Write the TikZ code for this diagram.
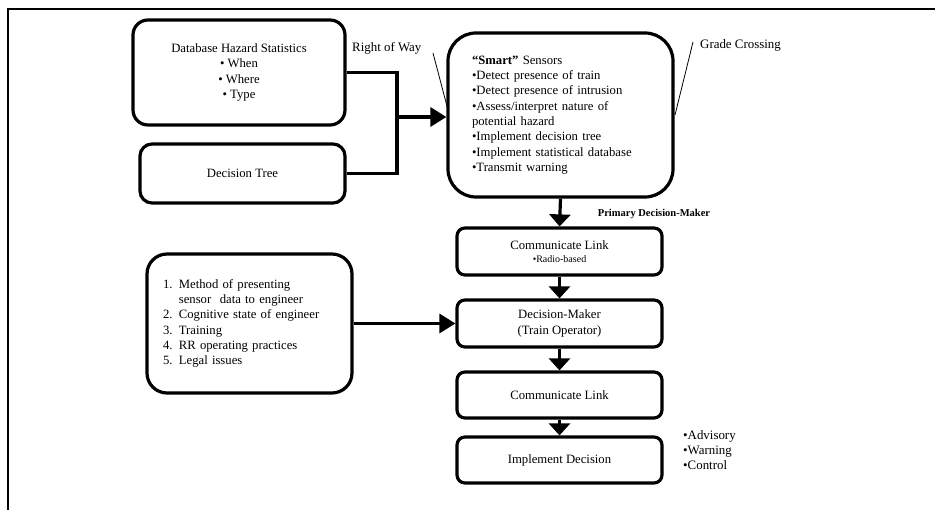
\documentclass[tikz,border=0pt]{standalone}
\usepackage{fontspec}
\setmainfont{Liberation Serif}
\usetikzlibrary{arrows.meta,calc}
\begin{document}
\begin{tikzpicture}[x=1pt,y=-1pt,
  box/.style={draw,line width=3.2pt,rounded corners=#1,inner sep=0pt,align=center,
    font=\fontsize{12.7}{15.3}\selectfont},
  box/.default=8pt,
  flow/.style={line width=3.2pt,-{Triangle[length=12pt,width=21pt]}},
  feed/.style={line width=3.2pt},
  note/.style={font=\fontsize{12.9}{15.3}\selectfont,inner sep=0pt},
  pointer/.style={line width=0.8pt}]
  \useasboundingbox (0,0) rectangle (935,510);
  % frame
  \draw[line width=2pt] (8,510) -- (8,9) -- (935,9);

  % inputs to the sensors
  \node[box=15pt,minimum width=212pt,minimum height=105pt] (db) at (239,72.5)
    {Database Hazard Statistics\\ \textbullet\ When\\ \textbullet\ Where\\ \textbullet\ Type};
  \node[box=12pt,minimum width=205pt,minimum height=59pt] (dt) at (242.5,173.5) {Decision Tree};

  \node[box=28pt,minimum width=225pt,minimum height=164pt,text width=177pt,align=left] (sens) at (560.5,115)
    {\textbf{“Smart”} Sensors\\
     •Detect presence of train\\
     •Detect presence of intrusion\\
     •Assess/interpret nature of\\
     potential hazard\\
     •Implement decision tree\\
     •Implement statistical database\\
     •Transmit warning};

  \coordinate (j) at (397,117);
  \draw[feed] (db.east) -- (db.east -| j) -- (dt.east -| j) -- (dt.east);
  \draw[line width=3.2pt,-{Triangle[length=16pt,width=19pt]}] (j) -- (j -| sens.west);

  % location labels
  \node[note,anchor=base west] (row) at (352,52) {Right of Way};
  \coordinate (rowend) at (448,110);
  \draw[pointer] (433,53) -- (rowend);
  \node[note,anchor=base west] (gc) at (700,49) {Grade Crossing};
  \coordinate (gcend) at (675,115);
  \draw[pointer] (693,42) -- (gcend);

  % decision chain
  \node[box,minimum width=205pt,minimum height=47pt] (cl1) at (559.5,251.5)
    {Communicate Link\\[-3pt] {\fontsize{10}{12}\selectfont •Radio-based}};
  \node[box,minimum width=205pt,minimum height=47pt] (dm) at (559.5,323.5)
    {Decision-Maker\\ (Train Operator)};
  \node[box,minimum width=205pt,minimum height=46pt] (cl2) at (559.5,395) {Communicate Link};
  \node[box,minimum width=205pt,minimum height=46pt] (id) at (559.5,460) {Implement Decision};

  \node[font=\bfseries\fontsize{10.5}{12}\selectfont,inner sep=0pt] (pdm) at (654,214) {Primary Decision-Maker};

  \draw[flow] (sens.south) -- (cl1.north);
  \draw[flow] (cl1.south) -- (dm.north);
  \draw[flow] (dm.south) -- (cl2.north);
  \draw[flow] (cl2.south) -- (id.north);

  \node[note,anchor=north west,align=left] (modes) at (683,430)
    {•Advisory\\ •Warning\\ •Control};

  % human factors
  \node[box=20pt,minimum width=205pt,minimum height=139pt,text width=173pt,align=left] (hf) at (249.5,323.5)
    {1. Method of presenting\\
     \phantom{1. }sensor\ \ data to engineer\\
     2. Cognitive state of engineer\\
     3. Training\\
     4. RR operating practices\\
     5. Legal issues};
  \draw[line width=3.2pt,-{Triangle[length=16pt,width=19pt]}] (hf.east) -- (dm.west);
\end{tikzpicture}
\end{document}
